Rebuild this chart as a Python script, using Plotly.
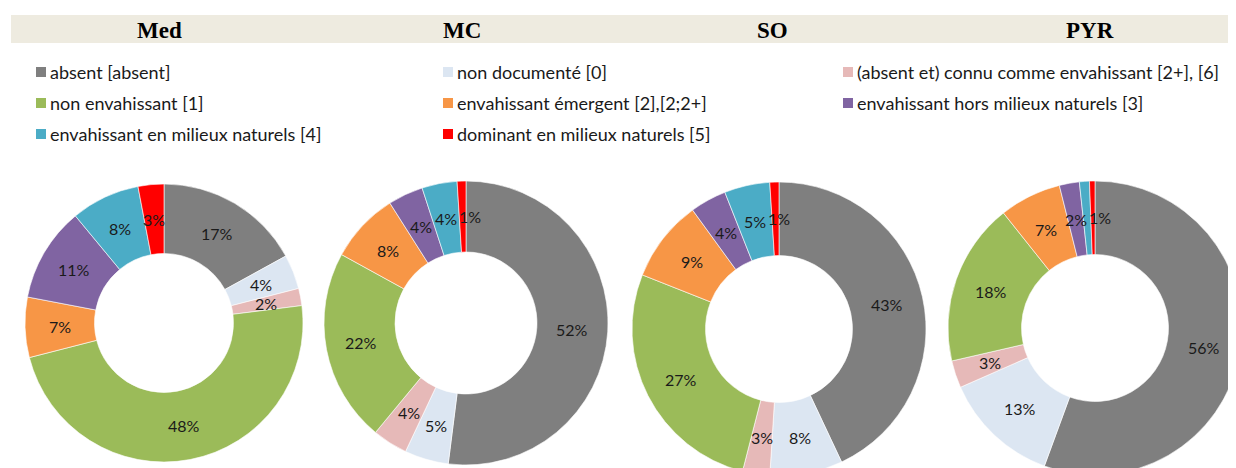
import math
import plotly.graph_objects as go

W, H = 1236, 468

regions = ["Med", "MC", "SO", "PYR"]
categories = [
    "absent [absent]",
    "non documenté [0]",
    "(absent et) connu comme envahissant [2+], [6]",
    "non envahissant [1]",
    "envahissant émergent [2],[2;2+]",
    "envahissant hors milieux naturels [3]",
    "envahissant en milieux naturels [4]",
    "dominant en milieux naturels [5]",
]
colors = ["#7F7F7F", "#DCE6F2", "#E6B9B8", "#9BBB59",
          "#F79646", "#8064A2", "#4BACC6", "#FF0000"]

med = [17, 4, 2, 48, 7, 11, 8, 3]
mc = [52, 5, 4, 22, 8, 4, 4, 1]
so = [43, 8, 3, 27, 9, 4, 5, 1]
pyr = [55.6, 12.8, 3.0, 17.9, 6.8, 2.2, 1.1, 0.6]
values = [med, mc, so, pyr]
hidden = {"PYR": [6]}   # slice labels not shown in the original

# pie centres / radius in figure pixels (from top-left)
centres = [(156, 315), (458, 315), (771, 321), (1087, 320)]
radii = [139, 142, 147, 147]
HOLE = 0.5

fig = go.Figure()

for name, vals, (cx, cy), r in zip(regions, values, centres, radii):
    yb = H - cy
    fig.add_trace(go.Pie(
        labels=categories, values=vals, name=name,
        sort=False, direction="clockwise", rotation=0, hole=HOLE,
        marker=dict(colors=colors, line=dict(color="white", width=0.6)),
        textinfo="none", showlegend=False,
        domain=dict(x=[max(0, (cx - r) / W), min(1, (cx + r) / W)],
                    y=[max(0, (yb - r) / H), min(1, (yb + r) / H)]),
    ))

    # percentage labels at the middle of the ring
    total = sum(vals)
    rm = r * (1 + HOLE) / 2
    cum = 0
    prev = None
    for i, v in enumerate(vals):
        a = 2 * math.pi * (cum + v / 2) / total
        cum += v
        if i in hidden.get(name, []):
            continue
        px_, py_ = cx + rm * math.sin(a), cy - rm * math.cos(a)
        if prev is not None and abs(px_ - prev[0]) < 24 and abs(py_ - prev[1]) < 14:
            px_ = prev[0] + 24
        prev = (px_, py_)
        fig.add_annotation(text="%d%%" % round(v / total * 100),
                           x=px_ / W, y=1 - py_ / H, xref="paper", yref="paper",
                           xanchor="center", yanchor="middle", showarrow=False,
                           font=dict(family="Lato", size=16, color="#1a1a1a"))

# title band
fig.add_shape(type="rect", xref="paper", yref="paper",
              x0=3 / W, x1=1, y0=1 - 35 / H, y1=1 - 7 / H,
              fillcolor="#EEEBE0", line=dict(width=0), layer="below")
title_x = [151, 454, 765, 1082]
for name, tx in zip(regions, title_x):
    fig.add_annotation(text="<b>%s</b>" % name, x=tx / W, y=1 - 22 / H,
                       xref="paper", yref="paper", xanchor="center", yanchor="middle",
                       showarrow=False,
                       font=dict(family="Liberation Serif", size=23, color="black"))

# legend, 3 columns
col_x = [28, 435, 835]
row_y = [64, 95, 126]
for i, (cat, c) in enumerate(zip(categories, colors)):
    x = col_x[i % 3]
    y = row_y[i // 3]
    fig.add_shape(type="rect", xref="paper", yref="paper",
                  x0=x / W, x1=(x + 10) / W, y0=1 - (y + 5) / H, y1=1 - (y - 5) / H,
                  fillcolor=c, line=dict(width=0))
    fig.add_annotation(text=cat, x=(x + 12) / W, y=1 - y / H, xref="paper", yref="paper",
                       xanchor="left", yanchor="middle", showarrow=False,
                       font=dict(family="Lato", size=18, color="#1a1a1a"))

fig.update_layout(width=W, height=H, margin=dict(l=0, r=0, t=0, b=0),
                  paper_bgcolor="white", plot_bgcolor="white")

fig.write_html("out.html")
